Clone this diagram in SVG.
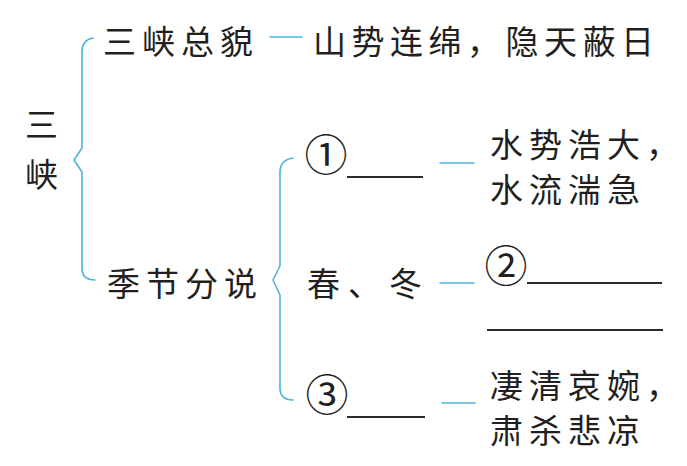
<svg xmlns="http://www.w3.org/2000/svg" width="687" height="466" viewBox="0 0 687 466">
<style>
.t{font-family:"Noto Sans CJK SC","Noto Sans CJK TC",sans-serif;font-size:33px;fill:#231f20;letter-spacing:6px}
.n{font-family:"Noto Sans CJK SC",sans-serif;font-size:43px;fill:#231f20;text-anchor:middle}
.c{fill:none;stroke:#4db3df;stroke-width:1.6;stroke-linejoin:round;stroke-linecap:round}
.u{stroke:#2a2a2a;stroke-width:2}
</style>
<rect width="687" height="466" fill="#fff"/>
<g id="connectors">
<path class="c" d="M93 38 Q82 40 82 52 L82 148 L74 160 L82 172 L82 268 Q82 280 95 280"/>
<path class="c" d="M293 158 Q280 160 280 172 L280 266 L273 280 L280 295 L280 388 Q280 400 293 400"/>
<path class="c" d="M270 37 H302 M440 163 H474 M440 283 H474 M442 403 H475"/>
</g>
<g id="root"><text class="t" x="25" y="136.5">三<tspan x="25" y="186.5">峡</tspan></text></g>
<g id="overview"><text class="t" x="103" y="54">三峡总貌</text></g>
<g id="overview-desc"><text class="t" x="313" y="54" style="letter-spacing:5.5px">山势连绵，隐天蔽日</text></g>
<g id="seasons"><text class="t" x="107" y="295.5">季节分说</text></g>
<g id="blank1"><text class="n" x="326" y="171">①</text><line class="u" x1="347" y1="177" x2="423" y2="177"/></g>
<g id="summer-desc"><text class="t" x="490" y="157">水势浩大，<tspan x="490" y="201.5">水流湍急</tspan></text></g>
<g id="spring-winter"><text class="t" x="307" y="295.5" style="letter-spacing:8px">春、冬</text></g>
<g id="blank2"><text class="n" x="506" y="282">②</text><line class="u" x1="527" y1="283" x2="662" y2="283"/><line class="u" x1="487" y1="330" x2="663" y2="330"/></g>
<g id="blank3"><text class="n" x="327" y="411">③</text><line class="u" x1="347" y1="417" x2="425" y2="417"/></g>
<g id="autumn-desc"><text class="t" x="490" y="397.5">凄清哀婉，<tspan x="490" y="442.5">肃杀悲凉</tspan></text></g>
</svg>
